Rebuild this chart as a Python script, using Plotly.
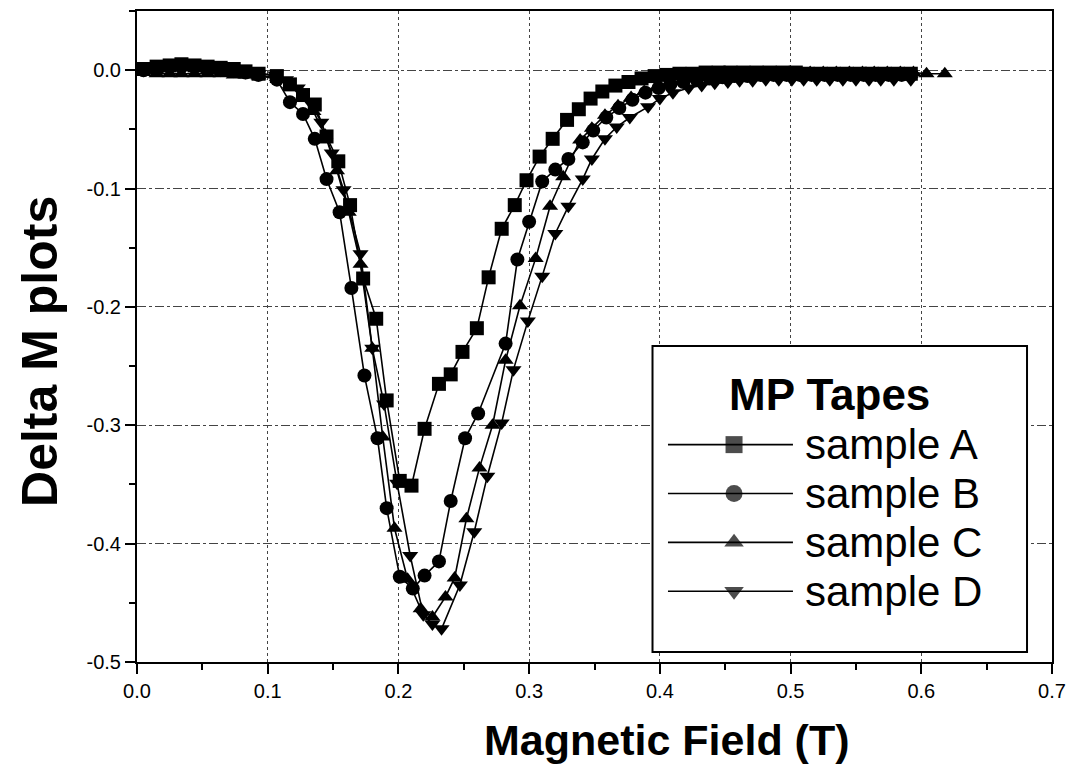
import plotly.graph_objects as go

# ---- data ----
x_flat = [0.005, 0.015, 0.025, 0.034, 0.044, 0.054, 0.064, 0.074, 0.083, 0.093]

a_x = x_flat + [0.107, 0.117, 0.127, 0.136, 0.145, 0.154, 0.163, 0.173, 0.183, 0.191,
                0.201, 0.210, 0.220, 0.231, 0.240, 0.249, 0.260, 0.269, 0.279, 0.289,
                0.298, 0.308, 0.318, 0.329, 0.338, 0.347, 0.356, 0.366, 0.376, 0.386,
                0.396, 0.405, 0.415, 0.425, 0.435, 0.445, 0.454, 0.464, 0.474, 0.484,
                0.494, 0.504, 0.513, 0.523, 0.533, 0.543, 0.553, 0.562, 0.572, 0.582, 0.592]
a_y = [0.001, 0.003, 0.004, 0.005, 0.004, 0.003, 0.002, 0.001, -0.001, -0.003,
       -0.005, -0.012, -0.021, -0.029, -0.056, -0.077, -0.114, -0.176, -0.210, -0.279,
       -0.347, -0.351, -0.303, -0.265, -0.257, -0.238, -0.218, -0.175, -0.134, -0.114,
       -0.093, -0.073, -0.058, -0.042, -0.033, -0.024, -0.018, -0.013, -0.010, -0.007,
       -0.005, -0.004, -0.003, -0.003, -0.002, -0.002, -0.002, -0.002, -0.002, -0.002,
       -0.002, -0.002, -0.003, -0.003, -0.003, -0.003, -0.003, -0.003, -0.003, -0.003, -0.003]

b_x = x_flat + [0.107, 0.117, 0.127, 0.136, 0.145, 0.155, 0.164, 0.174, 0.184, 0.191,
                0.201, 0.211, 0.220, 0.231, 0.240, 0.251, 0.261, 0.282, 0.291, 0.300,
                0.310, 0.320, 0.330, 0.341, 0.349, 0.359, 0.369, 0.379, 0.389, 0.399,
                0.408, 0.418, 0.428, 0.438, 0.448, 0.457, 0.467, 0.477, 0.487, 0.497,
                0.507, 0.516, 0.526, 0.536, 0.546, 0.556, 0.565, 0.575, 0.585]
b_y = [0.000, 0.002, 0.003, 0.003, 0.003, 0.002, 0.001, 0.000, -0.002, -0.004,
       -0.008, -0.027, -0.037, -0.058, -0.092, -0.120, -0.184, -0.258, -0.311, -0.370,
       -0.428, -0.438, -0.427, -0.415, -0.364, -0.311, -0.290, -0.231, -0.160, -0.128,
       -0.094, -0.084, -0.075, -0.061, -0.051, -0.040, -0.032, -0.025, -0.019, -0.015,
       -0.012, -0.010, -0.008, -0.007, -0.006, -0.005, -0.005, -0.004, -0.004, -0.004,
       -0.004, -0.004, -0.004, -0.004, -0.004, -0.004, -0.004, -0.004, -0.004]

c_x = x_flat + [0.107, 0.117, 0.127, 0.135, 0.144, 0.153, 0.162, 0.171, 0.180, 0.188,
                0.197, 0.207, 0.217, 0.226, 0.236, 0.243, 0.252, 0.262, 0.272, 0.282,
                0.293, 0.305, 0.316, 0.326, 0.339, 0.348, 0.358, 0.368, 0.378, 0.388,
                0.398, 0.407, 0.417, 0.427, 0.437, 0.447, 0.456, 0.466, 0.476, 0.486,
                0.496, 0.506, 0.515, 0.525, 0.535, 0.545, 0.555, 0.564, 0.574, 0.584,
                0.594, 0.604, 0.618]
c_y = [-0.002, -0.003, -0.003, -0.003, -0.003, -0.003, -0.003, -0.004, -0.004, -0.005,
       -0.006, -0.012, -0.022, -0.035, -0.055, -0.085, -0.120, -0.164, -0.235, -0.310,
       -0.387, -0.430, -0.455, -0.462, -0.445, -0.429, -0.379, -0.336, -0.300, -0.245,
       -0.199, -0.159, -0.115, -0.090, -0.059, -0.049, -0.038, -0.030, -0.023, -0.018,
       -0.014, -0.011, -0.009, -0.007, -0.006, -0.005, -0.004, -0.004, -0.003, -0.003,
       -0.003, -0.003, -0.002, -0.002, -0.002, -0.002, -0.002, -0.002, -0.002, -0.002,
       -0.002, -0.003, -0.003]

d_x = x_flat + [0.106, 0.114, 0.123, 0.133, 0.141, 0.149, 0.158, 0.171, 0.180, 0.189,
                0.199, 0.209, 0.219, 0.226, 0.233, 0.247, 0.258, 0.268, 0.279, 0.288,
                0.299, 0.310, 0.320, 0.330, 0.341, 0.348, 0.358, 0.367, 0.377, 0.391,
                0.400, 0.410, 0.422, 0.432, 0.442, 0.452, 0.461, 0.471, 0.481, 0.491,
                0.501, 0.510, 0.520, 0.530, 0.540, 0.550, 0.560, 0.569, 0.579, 0.592]
d_y = [0.000, 0.001, 0.002, 0.002, 0.002, 0.001, 0.000, -0.001, -0.002, -0.003,
       -0.004, -0.008, -0.015, -0.028, -0.044, -0.070, -0.101, -0.155, -0.235, -0.282,
       -0.349, -0.410, -0.460, -0.468, -0.472, -0.435, -0.390, -0.343, -0.298, -0.253,
       -0.212, -0.174, -0.138, -0.115, -0.092, -0.075, -0.058, -0.048, -0.040, -0.031,
       -0.024, -0.019, -0.015, -0.013, -0.011, -0.010, -0.009, -0.009, -0.008, -0.008,
       -0.008, -0.008, -0.008, -0.008, -0.008, -0.008, -0.008, -0.008, -0.008, -0.008]

series_names = ["sample A", "sample B", "sample C", "sample D"]
series_x = [a_x, b_x, c_x, d_x]
series_y = [a_y, b_y, c_y, d_y]
symbols = ["square", "circle", "triangle-up", "triangle-down"]

legend_title = "MP Tapes"
x_title = "Magnetic Field (T)"
y_title = "Delta M plots"

x_ticks = [0.0, 0.1, 0.2, 0.3, 0.4, 0.5, 0.6, 0.7]
x_ticklabels = ["0.0", "0.1", "0.2", "0.3", "0.4", "0.5", "0.6", "0.7"]
y_ticks = [0.0, -0.1, -0.2, -0.3, -0.4, -0.5]
y_ticklabels = ["0.0", "-0.1", "-0.2", "-0.3", "-0.4", "-0.5"]

X_RANGE = [0.0, 0.7]
Y_RANGE = [-0.5, 0.05]

FONT = "Liberation Sans, Arial, sans-serif"
MARKER_SIZE = 14

fig = go.Figure()
for name, xs, ys, sym in zip(series_names, series_x, series_y, symbols):
    fig.add_trace(go.Scatter(
        x=xs, y=ys, mode="lines+markers", name=name, showlegend=False,
        line=dict(color="black", width=1.6),
        marker=dict(symbol=sym, size=MARKER_SIZE, color="black", line=dict(width=0)),
    ))

# ---- legend panel (positions are fractions of the plotting area) ----
box_x0, box_x1, box_y0, box_y1 = 0.5634, 0.9727, 0.0153, 0.4854
title_xy = (0.7563, 0.4110)
entry_y = [0.3339, 0.2588, 0.1838, 0.1087]
line_x0, line_mid, line_x1, text_x = 0.5803, 0.6525, 0.7169, 0.7279


def fx(f):
    return X_RANGE[0] + f * (X_RANGE[1] - X_RANGE[0])


def fy(f):
    return Y_RANGE[0] + f * (Y_RANGE[1] - Y_RANGE[0])


# white panel above the grid but below the traces
fig.add_shape(type="rect", xref="x", yref="y", x0=fx(box_x0), x1=fx(box_x1),
              y0=fy(box_y0), y1=fy(box_y1),
              line=dict(color="black", width=2), fillcolor="white", layer="between")
fig.add_annotation(xref="paper", yref="paper", x=title_xy[0], y=title_xy[1],
                   text="<b>" + legend_title + "</b>", showarrow=False,
                   font=dict(size=44, family=FONT, color="black"), xanchor="center", yanchor="middle")
for name, sym, ey in zip(series_names, symbols, entry_y):
    fig.add_trace(go.Scatter(
        x=[line_x0, line_mid, line_x1], y=[ey, ey, ey], xaxis="x2", yaxis="y2",
        mode="lines+markers", showlegend=False, hoverinfo="skip",
        line=dict(color="black", width=1.6),
        marker=dict(symbol=sym, size=[0, 17, 0], color="black", line=dict(width=0)),
    ))
    fig.add_annotation(xref="paper", yref="paper", x=text_x, y=ey, text=name, showarrow=False,
                       font=dict(size=42, family=FONT, color="black"),
                       xanchor="left", yanchor="middle")

# axis titles (the x title sits right of centre in the reference)
fig.add_annotation(xref="paper", yref="paper", x=0.5792, y=-0.1194, text="<b>" + x_title + "</b>",
                   showarrow=False, font=dict(size=43, family=FONT, color="black"),
                   xanchor="center", yanchor="middle")
fig.add_annotation(xref="paper", yref="paper", x=-0.1060, y=0.4763, text="<b>" + y_title + "</b>",
                   showarrow=False, textangle=-90, font=dict(size=50, family=FONT, color="black"),
                   xanchor="center", yanchor="middle")

fig.update_layout(
    width=1077, height=779,
    margin=dict(l=129, r=33, t=1, b=125),
    paper_bgcolor="white", plot_bgcolor="white",
    font=dict(family=FONT, color="black"),
    showlegend=False,
    xaxis=dict(
        range=X_RANGE, tickvals=x_ticks, ticktext=x_ticklabels,
        showline=True, linecolor="black", linewidth=2, mirror=True,
        ticks="outside", ticklen=10, tickwidth=2, tickcolor="black",
        minor=dict(ticks="outside", ticklen=6, tickwidth=1.5, dtick=0.05, tickcolor="black", showgrid=False),
        showgrid=True, gridcolor="#444", gridwidth=1, griddash="dot",
        zeroline=False,
        tickfont=dict(size=20, family=FONT),
    ),
    yaxis=dict(
        range=Y_RANGE, tickvals=y_ticks, ticktext=y_ticklabels,
        showline=True, linecolor="black", linewidth=2, mirror=True,
        ticks="outside", ticklen=10, tickwidth=2, tickcolor="black",
        minor=dict(ticks="outside", ticklen=6, tickwidth=1.5, dtick=0.05, tickcolor="black", showgrid=False),
        showgrid=True, gridcolor="#444", gridwidth=1, griddash="dashdot",
        zeroline=False,
        tickfont=dict(size=20, family=FONT),
    ),
    xaxis2=dict(overlaying="x", range=[0, 1], visible=False, fixedrange=True),
    yaxis2=dict(overlaying="y", range=[0, 1], visible=False, fixedrange=True),
)

fig.write_html("out.html")
